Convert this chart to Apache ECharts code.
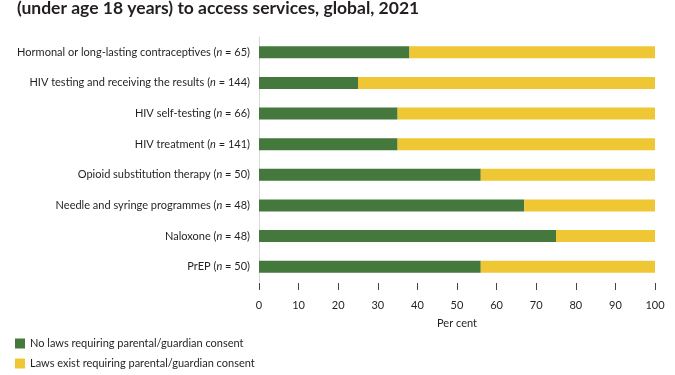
<!DOCTYPE html>
<html>
<head>
<meta charset="utf-8">
<script src="https://cdn.jsdelivr.net/npm/echarts@6/dist/echarts.min.js"></script>
<style>
  html, body { margin: 0; padding: 0; background: #fff; }
  #chart { width: 675px; height: 375px; }
</style>
</head>
<body>
<div id="chart"></div>
<script>
const services = [
  'Hormonal or long-lasting contraceptives',
  'HIV testing and receiving the results',
  'HIV self-testing',
  'HIV treatment',
  'Opioid substitution therapy',
  'Needle and syringe programmes',
  'Naloxone',
  'PrEP'
];
const sampleSizes = [65, 144, 66, 141, 50, 48, 48, 50];
const noLaws = [38, 25, 35, 35, 56, 67, 75, 56];
const lawsExist = [62, 75, 65, 65, 44, 33, 25, 44];
const xTicks = [0, 10, 20, 30, 40, 50, 60, 70, 80, 90, 100];

const seriesNames = [
  'No laws requiring parental/guardian consent',
  'Laws exist requiring parental/guardian consent'
];

const chart = echarts.init(document.getElementById('chart'));
const font = 'Lato, "Noto Sans", sans-serif';
const textColor = '#231f20';

const option = {
  color: ['#45783c', '#efc633'],
  textStyle: { fontFamily: font },
  title: {
    text: '(under age 18 years) to access services, global, 2021',
    left: 12,
    top: -6,
    textStyle: { fontFamily: font, fontSize: 17.5, fontWeight: 'bold', color: textColor }
  },
  legend: {
    orient: 'vertical',
    left: 15,
    top: 338,
    padding: 0,
    itemWidth: 10,
    itemHeight: 10,
    itemGap: 9,
    icon: 'rect',
    textStyle: { fontFamily: font, fontSize: 11, color: textColor },
    data: seriesNames
  },
  grid: { left: 259, right: 20, top: 37, height: 245, containLabel: false },
  xAxis: {
    type: 'value',
    min: xTicks[0],
    max: xTicks[xTicks.length - 1],
    interval: 10,
    offset: 1,
    name: 'Per cent',
    nameLocation: 'middle',
    nameGap: 35,
    nameTextStyle: { fontFamily: font, fontSize: 11, color: textColor },
    axisLine: { show: false },
    axisTick: { show: true, length: 7, lineStyle: { color: '#444', width: 1 } },
    axisLabel: { margin: 17, fontSize: 11, color: textColor, fontFamily: font },
    splitLine: { show: false }
  },
  yAxis: {
    type: 'category',
    inverse: true,
    data: services.map((s, i) => s + ' ({i|n} = ' + sampleSizes[i] + ')'),
    axisLine: { show: true, lineStyle: { color: '#d9d9d9', width: 1 } },
    axisTick: { show: false },
    axisLabel: {
      margin: 9,
      fontSize: 11,
      color: textColor,
      fontFamily: font,
      rich: { i: { fontStyle: 'italic', fontSize: 11, color: textColor, fontFamily: font } }
    }
  },
  series: [
    { name: seriesNames[0], type: 'bar', stack: 'total', barWidth: 12, data: noLaws },
    { name: seriesNames[1], type: 'bar', stack: 'total', barWidth: 12, data: lawsExist }
  ]
};

chart.setOption(option);
</script>
</body>
</html>
